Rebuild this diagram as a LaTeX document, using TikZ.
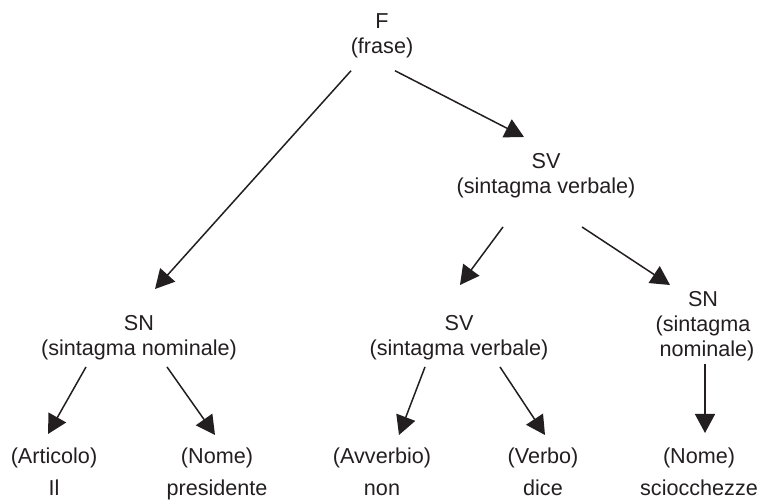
\documentclass[tikz,border=0pt]{standalone}
\usepackage{fontspec}
\setmainfont{Liberation Sans}
\usetikzlibrary{arrows.meta}
\definecolor{ink}{HTML}{231F20}
\begin{document}
\begin{tikzpicture}[x=1pt,y=-1pt]
	\tikzstyle{phrase} =[align=center, inner sep=0, anchor=north, text=ink, font=\fontsize{21.6}{25}\selectfont];
	\tikzstyle{word} =[phrase, font=\fontsize{21.6}{32}\selectfont];
	\tikzstyle{branch} =[-{Triangle[length=19pt,width=20pt]}, line width=1.5pt, draw=ink];
	\useasboundingbox (0,0) rectangle (766,502);

	\node[phrase] (f) at (382,13) {F\\(frase)};
	\node[phrase] (sv) at (546,153) {SV\\(sintagma verbale)};
	\node[phrase] (sn) at (139,315) {SN\\(sintagma nominale)};
	\node[phrase] (svb) at (459,315) {SV\\(sintagma verbale)};
	\node[phrase] (snb) at (703,291) {SN\\(sintagma\hspace*{8pt}\\\hspace*{8pt}nominale)};

	\node[word] (articolo) at (54,448) {(Articolo)\\Il};
	\node[word] (nome) at (217,448) {(Nome)\\presidente};
	\node[word] (avverbio) at (382,448) {(Avverbio)\\non};
	\node[word] (verbo) at (543,448) {(Verbo)\\dice};
	\node[word] (nomeb) at (699,448) {(Nome)\\sciocchezze};

	\draw[branch] ([xshift=-31pt,yshift=-13pt]f.south) -- ([xshift=16pt,yshift=26pt]sn.north);
	\draw[branch] ([xshift=13pt,yshift=-13pt]f.south) -- ([xshift=-22pt,yshift=16pt]sv.north);
	\draw[branch] ([xshift=-43pt,yshift=-29pt]sv.south) -- ([xshift=1pt,yshift=30pt]svb.north);
	\draw[branch] ([xshift=36pt,yshift=-29pt]sv.south) -- ([xshift=-33pt,yshift=6pt]snb.north);
	\draw[branch] ([xshift=-53pt,yshift=-7pt]sn.south) -- ([xshift=-6pt,yshift=14pt]articolo.north);
	\draw[branch] ([xshift=28pt,yshift=-7pt]sn.south) -- ([xshift=-2pt,yshift=13pt]nome.north);
	\draw[branch] ([xshift=-34pt,yshift=-7pt]svb.south) -- ([xshift=17pt,yshift=13pt]avverbio.north);
	\draw[branch] ([xshift=41pt,yshift=-7pt]svb.south) -- ([xshift=2pt,yshift=13pt]verbo.north);
	\draw[branch] ([xshift=2pt,yshift=-3pt]snb.south) -- ([xshift=6pt,yshift=15pt]nomeb.north);
\end{tikzpicture}
\end{document}
